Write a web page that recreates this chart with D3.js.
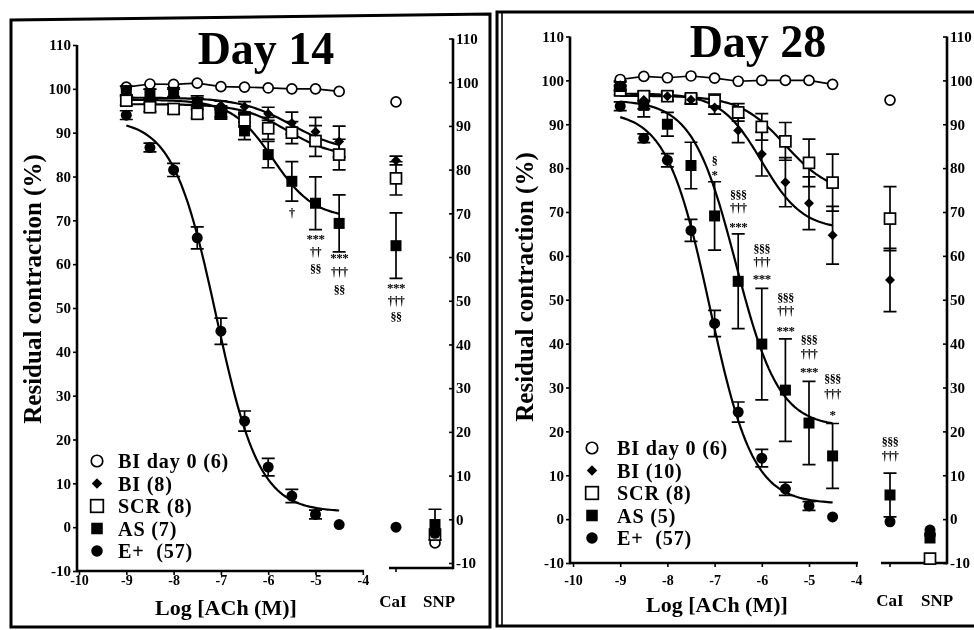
<!DOCTYPE html>
<html>
<head>
<meta charset="utf-8">
<script src="https://cdn.jsdelivr.net/npm/d3@7"></script>
<style>
  body { margin: 0; background: #fff; }
  svg { display: block; will-change: transform; -webkit-font-smoothing: antialiased; }
  text { font-family: 'Liberation Serif', 'Times New Roman', serif; font-weight: bold; fill: #000; }
</style>
</head>
<body>
<svg id="chart" width="974" height="630"></svg>
<script>
// ---------- shared categories and ticks ----------
const logACh = [-9, -8.5, -8, -7.5, -7, -6.5, -6, -5.5, -5, -4.5];
const xTicks = [-10, -9, -8, -7, -6, -5, -4];
const yTicks = [-10, 0, 10, 20, 30, 40, 50, 60, 70, 80, 90, 100, 110];
const sideLabels = ["CaI", "SNP"];
// series order everywhere: BI day 0, BI, SCR, AS, E+

// ---------- Day 14 ----------
const day14_BIday0 = [100.4, 101.1, 101.0, 101.3, 100.5, 100.4, 100.2, 100.0, 100.0, 99.4];
const day14_BI     = [99.8, 98.9, 98.9, 97.4, 96.2, 95.9, 94.3, 92.2, 90.2, 88.0];
const day14_BI_sem = [0.5, 1.0, 1.0, 1.0, 1.0, 1.2, 1.5, 2.5, 3.3, 3.5];
const day14_SCR     = [97.3, 95.8, 95.4, 94.3, 94.6, 92.8, 91.0, 90.0, 88.1, 85.0];
const day14_SCR_sem = [1.0, 1.0, 1.0, 1.0, 1.0, 1.5, 2.5, 2.5, 3.5, 3.5];
const day14_AS     = [99.6, 98.9, 99.2, 96.9, 94.6, 90.4, 85.0, 78.9, 73.9, 69.3];
const day14_AS_sem = [1.0, 1.0, 1.0, 1.0, 1.5, 2.0, 3.0, 4.5, 6.0, 6.5];
const day14_E     = [94.0, 86.6, 81.5, 66.0, 44.7, 24.2, 13.7, 7.1, 2.9, 0.6];
const day14_E_sem = [1.0, 1.0, 1.5, 2.5, 3.0, 2.3, 2.0, 1.5, 1.0, 0.5];
// sigmoid fits: [top, bottom, logEC50, Hill slope]
const day14_fitBI  = [98.0, 85.5, -5.5, 0.8];
const day14_fitSCR = [96.5, 84.5, -5.6, 0.9];
const day14_fitAS  = [97.5, 70.5, -5.9, 1.0];
const day14_fitE   = [93.0, 3.5, -7.1, 0.95];
const day14_CaI     = [95.5, 82.1, 78.0, 62.6, -1.8];
const day14_CaI_sem = [0, 1.0, 3.8, 7.5, 0];
const day14_SNP     = [-5.4, -2.5, -3.5, -1.2, -3.2];
const day14_SNP_sem = [0, 0, 0, 3.5, 0];
const day14_legend = ["BI day 0 (6)", "BI (8)", "SCR (8)", "AS (7)", "E+  (57)"];
const day14_marks = [
  [-5.5, 71.8, "†"],
  [-5, 66.4, "***"], [-5, 62.8, "††"], [-5, 59.0, "§§"],
  [-4.5, 61.9, "***"], [-4.5, 58.3, "†††"], [-4.5, 54.2, "§§"]
];
const day14_sideMarks = [["CaI", 53.6, "***"], ["CaI", 50.1, "†††"], ["CaI", 46.3, "§§"]];

// ---------- Day 28 ----------
const day28_BIday0 = [100.2, 100.9, 100.6, 101.0, 100.5, 99.8, 100.0, 100.0, 100.0, 99.1];
const day28_BI     = [98.9, 95.5, 96.4, 95.6, 93.8, 88.6, 83.2, 76.8, 72.0, 64.7];
const day28_BI_sem = [1.0, 2.0, 1.0, 1.0, 1.5, 2.8, 5.0, 5.6, 6.0, 6.6];
const day28_SCR     = [97.7, 96.4, 96.4, 95.9, 95.4, 92.7, 89.4, 86.1, 81.2, 76.7];
const day28_SCR_sem = [1.0, 1.0, 1.0, 1.0, 1.5, 2.0, 3.0, 4.3, 5.4, 6.5];
const day28_AS     = [98.6, 94.3, 90.0, 80.6, 69.1, 54.2, 39.9, 29.4, 21.9, 14.4];
const day28_AS_sem = [1.0, 2.6, 2.7, 5.3, 7.8, 10.8, 12.7, 11.7, 9.5, 7.4];
const day28_E     = [94.1, 86.8, 81.8, 65.8, 44.6, 24.4, 13.9, 6.9, 3.0, 0.5];
const day28_E_sem = [1.0, 1.0, 1.5, 2.5, 3.0, 2.3, 2.0, 1.5, 1.0, 0.5];
const day28_fitBI  = [97.0, 66.0, -6.0, 1.0];
const day28_fitSCR = [96.5, 74.0, -5.5, 0.9];
const day28_fitAS  = [95.5, 21.0, -6.55, 0.95];
const day28_fitE   = [93.0, 3.5, -7.1, 0.95];
const day28_CaI     = [95.5, 54.5, 68.5, 5.5, -0.6];
const day28_CaI_sem = [0, 7.2, 7.3, 5.0, 0];
const day28_SNP     = [-3.5, -3.5, -9.0, -4.3, -2.5];
const day28_SNP_sem = [0, 0, 0, 0, 0];
const day28_legend = ["BI day 0 (6)", "BI (10)", "SCR (8)", "AS (5)", "E+  (57)"];
const day28_marks = [
  [-7, 81.8, "§"], [-7, 79.0, "*"],
  [-6.5, 74.0, "§§§"], [-6.5, 70.9, "†††"], [-6.5, 67.2, "***"],
  [-6, 61.7, "§§§"], [-6, 58.6, "†††"], [-6, 55.2, "***"],
  [-5.5, 50.4, "§§§"], [-5.5, 47.4, "†††"], [-5.5, 43.4, "***"],
  [-5, 40.8, "§§§"], [-5, 37.6, "†††"], [-5, 34.0, "***"],
  [-4.5, 32.1, "§§§"], [-4.5, 28.5, "†††"], [-4.5, 24.4, "*"]
];
const day28_sideMarks = [["CaI", 17.6, "§§§"], ["CaI", 14.4, "†††"]];

// ---------- layout of the two panels ----------
const panels = [
  {
    title: "Day 14", titleX: 266, titleY: 64,
    frame: "M11,20 L490,14 L490,627 L11,627 Z", innerLine: null,
    xRange: [79, 362.8], yRange: [571, 45], yRightRange: [563, 38.5],
    axisX: 77, xAxisY: 571, xAxisEnd: 364, tickLabelY: 585,
    rightAxisX: 453, catRange: [396, 435], catAxisY: 568, catAxisStart: 389,
    catLabelX: [393, 439], catLabelY: 607,
    yLabelX: 33, yLabelY: 289, xLabelX: 226, xLabelY: 615,
    legendX: 97, legendTextX: 118, legendY: 461,
    BIday0: day14_BIday0,
    series: [[day14_BI, day14_BI_sem], [day14_SCR, day14_SCR_sem], [day14_AS, day14_AS_sem], [day14_E, day14_E_sem]],
    fits: [day14_fitBI, day14_fitSCR, day14_fitAS, day14_fitE],
    side: [[day14_CaI, day14_CaI_sem], [day14_SNP, day14_SNP_sem]],
    legend: day14_legend, marks: day14_marks, sideMarks: day14_sideMarks
  },
  {
    title: "Day 28", titleX: 758, titleY: 57,
    frame: "M497,12 L980,12 L980,626 L497,626 Z", innerLine: 502,
    xRange: [573, 856.2], yRange: [563, 36.5], yRightRange: [563, 36.5],
    axisX: 570, xAxisY: 563, xAxisEnd: 858, tickLabelY: 585,
    rightAxisX: 947, catRange: [890, 930], catAxisY: 563, catAxisStart: 881,
    catLabelX: [890, 937], catLabelY: 606,
    yLabelX: 525, yLabelY: 287, xLabelX: 717, xLabelY: 612,
    legendX: 592, legendTextX: 617, legendY: 448,
    BIday0: day28_BIday0,
    series: [[day28_BI, day28_BI_sem], [day28_SCR, day28_SCR_sem], [day28_AS, day28_AS_sem], [day28_E, day28_E_sem]],
    fits: [day28_fitBI, day28_fitSCR, day28_fitAS, day28_fitE],
    side: [[day28_CaI, day28_CaI_sem], [day28_SNP, day28_SNP_sem]],
    legend: day28_legend, marks: day28_marks, sideMarks: day28_sideMarks
  }
];

const FONT = "'Liberation Serif', 'Times New Roman', serif";
const svg = d3.select("#chart");

// four-parameter logistic used for the fitted curves
function logistic(p, v) {
  const [top, bottom, ec50, h] = p;
  return bottom + (top - bottom) / (1 + Math.pow(10, (v - ec50) * h));
}

// kind: 0 open circle, 1 diamond, 2 open square, 3 filled square, 4 filled circle
function drawMarker(g, kind, cx, cy, k = 1) {
  if (kind === 0) {
    g.append("circle").attr("cx", cx).attr("cy", cy).attr("r", 5 * k)
      .attr("fill", "#fff").attr("stroke", "#000").attr("stroke-width", 1.7);
  } else if (kind === 1) {
    g.append("path").attr("d", d3.symbol().type(d3.symbolSquare).size(50 * k * k)())
      .attr("transform", `translate(${cx},${cy}) rotate(45)`).attr("fill", "#000");
  } else if (kind === 2) {
    const s = 11 * k;
    g.append("rect").attr("x", cx - s / 2).attr("y", cy - s / 2).attr("width", s).attr("height", s)
      .attr("fill", "#fff").attr("stroke", "#000").attr("stroke-width", 1.7);
  } else if (kind === 3) {
    const s = 11 * k;
    g.append("rect").attr("x", cx - s / 2).attr("y", cy - s / 2).attr("width", s).attr("height", s)
      .attr("fill", "#000");
  } else {
    g.append("circle").attr("cx", cx).attr("cy", cy).attr("r", 5.5 * k).attr("fill", "#000");
  }
}

function errorBar(g, cx, yA, yB, cap = 6.5) {
  g.append("path")
    .attr("d", `M${cx - cap},${yA}H${cx + cap}M${cx},${yA}V${yB}M${cx - cap},${yB}H${cx + cap}`)
    .attr("fill", "none").attr("stroke", "#000").attr("stroke-width", 1.7);
}

function styleTicks(sel, size) {
  sel.attr("font-family", FONT).attr("font-size", size).attr("font-weight", "bold");
  sel.selectAll("text").attr("font-family", FONT).attr("font-weight", "bold")
    .attr("font-size", size).attr("fill", "#000");
  sel.selectAll(".tick line").attr("stroke", "#000").attr("stroke-width", 1.6);
  sel.select(".domain").remove();
}

function drawPanel(p) {
  const g = svg.append("g");
  const x = d3.scaleLinear().domain([-10, -4]).range(p.xRange);
  const y = d3.scaleLinear().domain([-10, 110]).range(p.yRange);
  const yR = d3.scaleLinear().domain([-10, 110]).range(p.yRightRange);
  const xc = d3.scalePoint().domain(sideLabels).range(p.catRange);

  // frame
  g.append("path").attr("d", p.frame).attr("fill", "none").attr("stroke", "#000").attr("stroke-width", 3);
  if (p.innerLine) {
    g.append("line").attr("x1", p.innerLine).attr("x2", p.innerLine).attr("y1", 12).attr("y2", 626)
      .attr("stroke", "#000").attr("stroke-width", 1.6);
  }

  // left y axis
  const ya = g.append("g").attr("transform", `translate(${p.axisX},0)`)
    .call(d3.axisLeft(y).tickValues(yTicks).tickFormat(String).tickSizeInner(4).tickSizeOuter(0).tickPadding(2));
  styleTicks(ya, 15);
  g.append("line").attr("x1", p.axisX).attr("x2", p.axisX).attr("y1", y(110)).attr("y2", p.xAxisY + 1.2)
    .attr("stroke", "#000").attr("stroke-width", 2.6);

  // x axis
  const xa = g.append("g").attr("transform", `translate(0,${p.xAxisY})`)
    .call(d3.axisBottom(x).tickValues(xTicks).tickFormat(String).tickSizeInner(4).tickSizeOuter(0));
  styleTicks(xa, 14);
  xa.selectAll("text").attr("y", p.tickLabelY - p.xAxisY).attr("dy", 0);
  g.append("line").attr("x1", p.axisX).attr("x2", p.xAxisEnd).attr("y1", p.xAxisY).attr("y2", p.xAxisY)
    .attr("stroke", "#000").attr("stroke-width", 2.6);

  // right y axis with the CaI / SNP baseline
  const ra = g.append("g").attr("transform", `translate(${p.rightAxisX},0)`)
    .call(d3.axisRight(yR).tickValues(yTicks).tickFormat(String).tickSizeInner(-4).tickSizeOuter(0).tickPadding(3));
  styleTicks(ra, 15);
  g.append("line").attr("x1", p.rightAxisX).attr("x2", p.rightAxisX).attr("y1", yR(110)).attr("y2", p.catAxisY + 1.2)
    .attr("stroke", "#000").attr("stroke-width", 2.6);
  g.append("line").attr("x1", p.catAxisStart).attr("x2", p.rightAxisX).attr("y1", p.catAxisY).attr("y2", p.catAxisY)
    .attr("stroke", "#000").attr("stroke-width", 2.6);
  g.append("line").attr("x1", xc("CaI")).attr("x2", xc("CaI")).attr("y1", p.catAxisY).attr("y2", p.catAxisY + 4)
    .attr("stroke", "#000").attr("stroke-width", 1.6);
  sideLabels.forEach((c, i) => {
    g.append("text").attr("x", p.catLabelX[i]).attr("y", p.catLabelY).attr("text-anchor", "middle")
      .attr("font-size", 17).text(c);
  });

  // titles and axis labels
  g.append("text").attr("x", p.titleX).attr("y", p.titleY).attr("text-anchor", "middle")
    .attr("font-size", 46).text(p.title);
  g.append("text").attr("transform", `translate(${p.yLabelX + 8},${p.yLabelY}) rotate(-90)`)
    .attr("text-anchor", "middle").attr("font-size", 25).text("Residual contraction (%)");
  g.append("text").attr("x", p.xLabelX).attr("y", p.xLabelY).attr("text-anchor", "middle")
    .attr("font-size", 22).text("Log [ACh (M)]");

  // fitted sigmoid curves
  const grid = d3.range(0, 91).map(i => -9 + i * 0.05);
  const curve = d3.line().x(d => x(d[0])).y(d => y(d[1]));
  p.fits.forEach(f => {
    g.append("path").attr("d", curve(grid.map(v => [v, logistic(f, v)])))
      .attr("fill", "none").attr("stroke", "#000").attr("stroke-width", 2.2);
  });
  // BI day 0 joined point to point
  g.append("path").attr("d", curve(logACh.map((v, i) => [v, p.BIday0[i]])))
    .attr("fill", "none").attr("stroke", "#000").attr("stroke-width", 1.7);

  // error bars
  p.series.forEach(([vals, sem]) => {
    logACh.forEach((v, i) => {
      if (sem[i] > 0.6) errorBar(g, x(v), y(vals[i] + sem[i]), y(vals[i] - sem[i]));
    });
  });
  p.side.forEach(([vals, sem], j) => {
    vals.forEach((val, i) => {
      if (sem[i] > 0.6) errorBar(g, xc(sideLabels[j]), yR(val + sem[i]), yR(val - sem[i]));
    });
  });

  // markers (drawn back to front)
  const columns = [p.BIday0, p.series[0][0], p.series[1][0], p.series[2][0], p.series[3][0]];
  [0, 2, 1, 3, 4].forEach(k => {
    logACh.forEach((v, i) => drawMarker(g, k, x(v), y(columns[k][i])));
    p.side.forEach(([vals], j) => drawMarker(g, k, xc(sideLabels[j]), yR(vals[k])));
  });

  // significance symbols: one stacked text per column
  const stack = (rows, px, py) => {
    d3.groups(rows, r => r[0]).forEach(([key, items]) => {
      const t = g.append("text").attr("text-anchor", "middle");
      items.forEach(([, val, s]) => {
        const star = s[0] === "*";
        t.append("tspan").attr("x", px(key)).attr("y", py(val))
          .attr("dy", star ? "0.5em" : "0.36em")
          .attr("font-size", star ? 13 : 12)
          .attr("letter-spacing", -0.5).text(s);
      });
    });
  };
  stack(p.marks, x, y);
  stack(p.sideMarks, xc, yR);

  // legend
  p.legend.forEach((label, i) => {
    const cy = p.legendY + i * 22.5;
    drawMarker(g, i, p.legendX, cy, i === 0 || i === 2 ? 1.15 : 1.05);
    g.append("text").attr("x", p.legendTextX).attr("y", cy + 7).attr("font-size", 20.2)
      .attr("letter-spacing", 0.8).style("white-space", "pre").text(label);
  });
}

panels.forEach(drawPanel);
</script>
</body>
</html>
